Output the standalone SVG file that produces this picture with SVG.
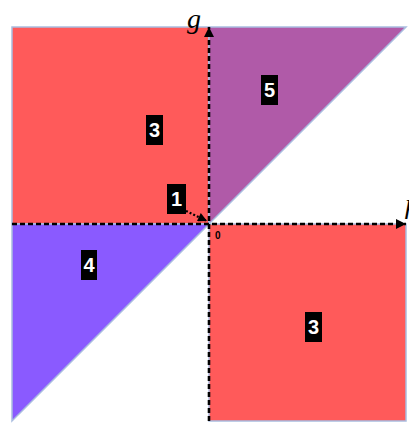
<svg xmlns="http://www.w3.org/2000/svg" width="409" height="423" viewBox="0 0 409 423">
  <defs>
    <style>
      .region { stroke: #a9bde0; stroke-width: 1.5; }
      .axis { stroke: #000; stroke-width: 2.6; stroke-dasharray: 5 3; fill: none; }
      .lblbox { fill: #000; }
      .lbl { fill: #fff; font-family: "Liberation Sans", Arial, sans-serif; font-weight: bold; font-size: 20px; text-anchor: middle; }
      .var { fill: #000; font-family: "Liberation Serif", "Times New Roman", serif; font-style: italic; font-size: 28px; }
    </style>
    <marker id="ah" viewBox="0 0 10 10" refX="10" refY="5" markerWidth="11" markerHeight="10" markerUnits="userSpaceOnUse" orient="auto">
      <path d="M0,0 L10,5 L0,10 Z" fill="#000"/>
    </marker>
    <marker id="ahs" viewBox="0 0 10 10" refX="10" refY="5" markerWidth="10" markerHeight="9" markerUnits="userSpaceOnUse" orient="auto">
      <path d="M0,0 L10,5 L0,10 Z" fill="#000"/>
    </marker>
  </defs>
  <rect width="409" height="423" fill="#fff"/>
  <g id="region3a"><rect class="region" x="12" y="27" width="197" height="197" fill="#ff5a5a"/></g>
  <g id="region5"><polygon class="region" points="209,27 406,27 209,224" fill="#b05aa8"/></g>
  <g id="region4"><polygon class="region" points="12,224 209,224 12,421" fill="#8a5aff"/></g>
  <g id="region3b"><rect class="region" x="209" y="224" width="197" height="197" fill="#ff5a5a"/></g>
  <g id="connectors">
    <line class="axis" x1="12" y1="224" x2="406" y2="224" marker-end="url(#ah)"/>
    <line class="axis" x1="209" y1="421" x2="209" y2="27" marker-end="url(#ah)"/>
    <line x1="186" y1="211" x2="207" y2="221" stroke="#000" stroke-width="2.2" stroke-dasharray="2 2" marker-end="url(#ahs)"/>
  </g>
  <g id="axis-g"><text class="var" x="187" y="28">g</text></g>
  <g id="axis-h"><text class="var" x="404" y="219">h</text></g>
  <g id="origin"><text x="215" y="239" font-family="'Liberation Sans', Arial, sans-serif" font-weight="bold" font-size="10" fill="#000">0</text></g>
  <g id="label3a"><rect class="lblbox" x="146" y="115" width="17" height="30"/><text class="lbl" x="154.5" y="137">3</text></g>
  <g id="label5"><rect class="lblbox" x="261" y="75" width="17" height="30"/><text class="lbl" x="269.5" y="97">5</text></g>
  <g id="label1"><rect class="lblbox" x="167" y="184" width="19" height="30"/><text class="lbl" x="176.5" y="206">1</text></g>
  <g id="label4"><rect class="lblbox" x="81" y="250" width="16" height="30"/><text class="lbl" x="89" y="272">4</text></g>
  <g id="label3b"><rect class="lblbox" x="305" y="312" width="17" height="30"/><text class="lbl" x="313.5" y="334">3</text></g>
</svg>
